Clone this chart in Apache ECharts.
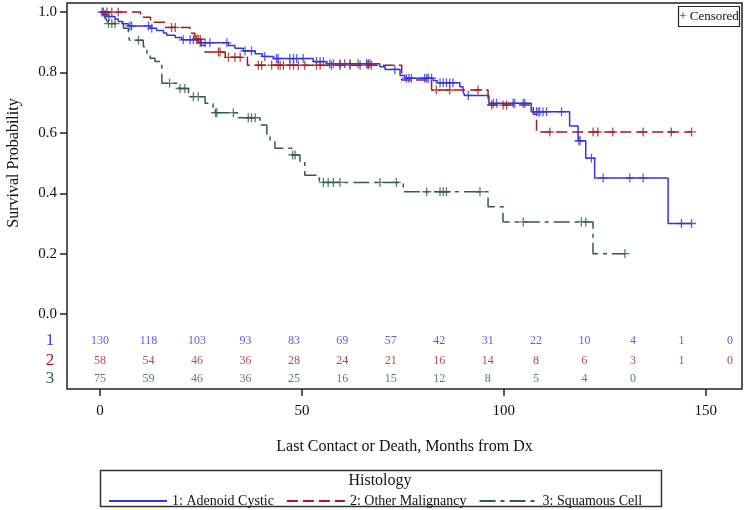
<!DOCTYPE html>
<html><head><meta charset="utf-8">
<script src="https://cdn.jsdelivr.net/npm/echarts@6/dist/echarts.min.js"></script>
<style>html,body{margin:0;padding:0;background:#fff}#c{width:747px;height:510px}</style>
</head><body><div id="c"></div>
<script>
const groupNames = ['1: Adenoid Cystic', '2: Other Malignancy', '3: Squamous Cell'];
const groupLabels = ['1', '2', '3'];

// Kaplan-Meier steps: [month, survival after change]; last point = end of follow-up
const blueSteps = [[0,1.0],[0.8,0.992],[1.8,0.985],[3.7,0.977],[4.5,0.969],[5.6,0.961],[7.0,0.954],[12.4,0.946],[14.0,0.939],[15.7,0.931],[16.5,0.923],[18.6,0.916],[20.2,0.908],[24.3,0.898],[31.8,0.889],[33.4,0.880],[35.5,0.871],[38.4,0.862],[40.2,0.853],[43.0,0.846],[52.8,0.836],[56.1,0.829],[69.3,0.819],[70.6,0.810],[74.3,0.790],[75.5,0.781],[82.5,0.773],[83.5,0.766],[89.1,0.753],[89.9,0.738],[90.3,0.724],[96.3,0.698],[106.8,0.670],[116.3,0.623],[118.4,0.574],[120.3,0.516],[122.5,0.451],[140.7,0.300],[146.5,0.300]];
const blueCensor = [0.5,1.2,2.2,7.4,7.8,12.0,12.8,20.6,22.3,23.1,24.8,26.0,27.2,31.4,35.9,37.5,40.8,43.7,44.1,47.0,47.9,48.7,50.3,53.6,54.5,55.3,56.9,57.8,59.4,60.6,61.9,63.9,66.0,66.4,66.8,73.0,75.9,76.5,77.1,80.4,80.9,81.3,82.1,84.2,85.0,85.8,86.6,87.4,91.2,97.4,98.2,102.3,102.7,104.8,105.2,108.1,108.5,108.9,109.7,110.6,114.3,118.6,118.9,121.7,124.6,131.2,134.5,144.0,146.5];

const redSteps = [[0,1.0],[10.0,0.983],[12.5,0.966],[16.0,0.949],[22.3,0.930],[23.5,0.910],[25.0,0.889],[26.0,0.868],[31.0,0.850],[36.5,0.824],[74.7,0.775],[82.1,0.742],[96.1,0.692],[107.3,0.662],[108.1,0.603],[146.5,0.603]];
const redCensor = [0.8,1.7,2.9,4.5,17.7,18.6,23.9,24.3,24.8,29.3,29.7,31.8,33.4,34.7,39.2,40.0,42.5,44.1,44.6,45.4,47.0,47.9,49.1,50.7,53.6,54.5,57.3,59.4,61.9,64.4,66.4,67.2,83.3,86.6,93.6,97.0,99.8,100.7,111.4,122.1,123.3,127.0,134.5,141.5,146.5];

const greenSteps = [[0,1.0],[1.2,0.984],[1.6,0.974],[2.0,0.962],[5.8,0.946],[7.0,0.920],[7.3,0.907],[10.7,0.885],[11.6,0.863],[12.4,0.847],[13.6,0.836],[15.3,0.764],[19.4,0.747],[21.9,0.720],[26.0,0.698],[28.0,0.684],[28.5,0.667],[34.2,0.650],[39.6,0.626],[41.3,0.587],[42.1,0.571],[43.3,0.549],[47.5,0.527],[49.5,0.504],[50.7,0.460],[54.3,0.436],[75.1,0.405],[96.1,0.355],[99.8,0.305],[122.1,0.200],[130.0,0.200]];
const greenCensor = [2.1,2.9,3.7,9.5,17.2,19.8,21.0,23.1,24.3,28.6,28.9,33.0,36.7,37.5,38.4,47.7,48.3,55.3,56.5,57.8,59.4,69.3,73.4,80.9,84.2,85.0,85.8,94.1,104.8,119.2,120.3,130.0];

// Number at risk
const atRiskTimes = [0,12,24,36,48,60,72,84,96,108,120,132,144,156];
const atRisk1 = [130,118,103,93,83,69,57,42,31,22,10,4,1,0];
const atRisk2 = [58,54,46,36,28,24,21,16,14,8,6,3,1,0];
const atRisk3 = [75,59,46,36,25,16,15,12,8,5,4,0];

const xTicks = [0,50,100,150];
const yTicks = [0,0.2,0.4,0.6,0.8,1.0];

const colors = ['#3434E0', '#A01C22', '#2F5E4C'];
const dashes = ['solid', [11,5], [16,5,4,5]];
const FONT = '"Liberation Serif","DejaVu Serif",serif';

function survAt(steps, t) {
  let s = steps[0][1];
  for (const p of steps) { if (p[0] <= t) s = p[1]; else break; }
  return s;
}

const stepsAll = [blueSteps, redSteps, greenSteps];
const censAll = [blueCensor, redCensor, greenCensor];
const riskAll = [atRisk1, atRisk2, atRisk3];
const rowY = [-0.089, -0.156, -0.215];
const rowPix = [341, 361, 379];

const series = [];
stepsAll.forEach((st, i) => {
  series.push({
    name: groupNames[i], type: 'line', step: 'end', data: st,
    showSymbol: false, symbol: 'none',
    lineStyle: { color: colors[i], width: 1.5, type: dashes[i] },
    itemStyle: { color: colors[i] }, z: 3 + i
  });
});
censAll.forEach((cs, i) => {
  series.push({
    type: 'scatter', data: cs.map(t => [t, survAt(stepsAll[i], t)]),
    symbol: 'path://M0,5L10,5M5,0L5,10', symbolSize: 9,
    itemStyle: { color: 'rgba(0,0,0,0)', borderColor: colors[i], borderWidth: 1.3 },
    z: 6 + i, silent: true
  });
});
riskAll.forEach((r, i) => {
  series.push({
    type: 'scatter', data: r.map((n, k) => [atRiskTimes[k], rowY[i], n]),
    symbolSize: 1, itemStyle: { color: 'rgba(0,0,0,0)' },
    label: { show: true, position: 'inside', formatter: p => String(p.data[2]),
             color: colors[i], fontFamily: FONT, fontSize: 12 },
    silent: true
  });
});

const graphic = [
  { type: 'text', x: 14, y: 163, rotation: Math.PI / 2,
    style: { text: 'Survival Probability', font: '16px ' + FONT, fill: '#111', textAlign: 'center', textVerticalAlign: 'middle' } },
  { type: 'rect', shape: { x: 678.5, y: 6.5, width: 61, height: 20 },
    style: { fill: '#fff', stroke: '#222', lineWidth: 1.2 } },
  { type: 'text', x: 709, y: 17,
    style: { text: '+ Censored', font: '13px ' + FONT, fill: '#111', textAlign: 'center', textVerticalAlign: 'middle' } },
  { type: 'rect', shape: { x: 100.5, y: 470.5, width: 561, height: 36 },
    style: { fill: 'none', stroke: '#333', lineWidth: 1.5 } },
  { type: 'text', x: 380, y: 481,
    style: { text: 'Histology', font: '16px ' + FONT, fill: '#111', textAlign: 'center', textVerticalAlign: 'middle' } }
];
groupLabels.forEach((g, i) => {
  graphic.push({ type: 'text', x: 50, y: rowPix[i],
    style: { text: g, font: '17px ' + FONT, fill: colors[i], textAlign: 'center', textVerticalAlign: 'middle' } });
});

const chart = echarts.init(document.getElementById('c'), null, { renderer: 'canvas' });
chart.setOption({
  animation: false,
  backgroundColor: '#fff',
  grid: { left: 67, right: 5, top: 3, bottom: 121, show: true, borderColor: '#222', borderWidth: 1.5, backgroundColor: '#fff' },
  xAxis: {
    type: 'value', min: -8.2, max: 159,
    name: 'Last Contact or Death, Months from Dx', nameLocation: 'middle', nameGap: 50,
    nameTextStyle: { fontFamily: FONT, fontSize: 16, color: '#111' },
    axisLine: { show: false, onZero: false }, splitLine: { show: false },
    axisTick: { show: true, inside: false, length: 7, customValues: xTicks, lineStyle: { color: '#222', width: 1.5 } },
    axisLabel: { customValues: xTicks, margin: 15, fontFamily: FONT, fontSize: 15, color: '#111' }
  },
  yAxis: {
    type: 'value', min: -0.248, max: 1.03,
    axisLine: { show: false, onZero: false }, splitLine: { show: false },
    axisTick: { show: true, length: 7, customValues: yTicks, lineStyle: { color: '#222', width: 1.5 } },
    axisLabel: { customValues: yTicks, margin: 10, fontFamily: FONT, fontSize: 15, color: '#111',
                 formatter: v => v.toFixed(1) }
  },
  legend: {
    data: groupNames, left: 103, top: 489, itemWidth: 58, itemHeight: 10, itemGap: 12,
    itemStyle: { opacity: 0 },
    textStyle: { fontFamily: FONT, fontSize: 14, color: '#111' }, selectedMode: false
  },
  graphic: graphic,
  series: series
});
</script>
</body></html>
